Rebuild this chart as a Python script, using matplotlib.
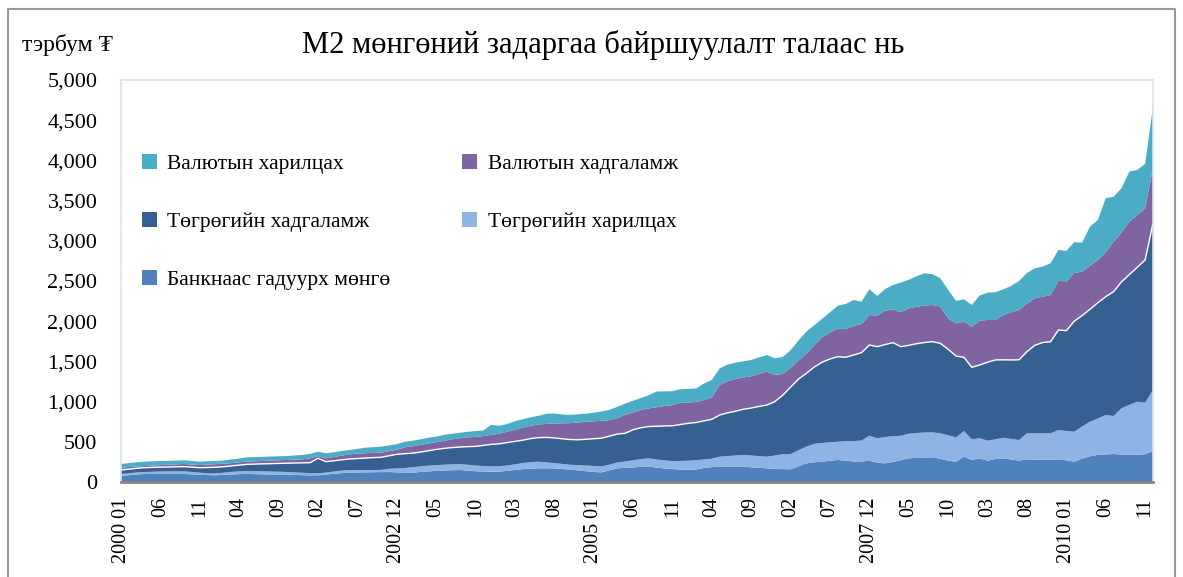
import numpy as np
import matplotlib.pyplot as plt
from matplotlib.lines import Line2D

# MONTHS 2000 01 .. 2010 12
months = ["%d %02d" % (y, m) for y in range(2000, 2011) for m in range(1, 13)]

tick_labels = ["2000 01", "06", "11", "04", "09", "02", "07", "2002 12", "05", "10",
               "03", "08", "2005 01", "06", "11", "04", "09", "02", "07", "2007 12",
               "05", "10", "03", "08", "2010 01", "06", "11"]

# BILLION TUGRIK
cash = [75, 85, 93, 100, 100, 100, 101, 100, 100, 95, 90, 86,
        83, 88, 93, 98, 100, 98, 96, 94, 92, 90, 88, 85,
        83, 83, 92, 102, 110, 116, 118, 120, 122, 123, 124, 120,
        112, 115, 125, 132, 138, 142, 146, 149, 142, 135, 130, 128,
        128, 138, 150, 160, 168, 170, 170, 170, 162, 155, 145, 135,
        125, 120, 145, 170, 175, 182, 188, 190, 180, 168, 161, 155,
        150, 155, 175, 185, 190, 190, 190, 190, 183, 176, 170, 165,
        160, 158, 195, 232, 245, 253, 265, 274, 265, 255, 255, 265,
        240, 232, 250, 270, 295, 300, 305, 307, 290, 265, 253, 315,
        274, 295, 265, 286, 295, 280, 265, 282, 278, 275, 274, 282,
        270, 253, 290, 320, 336, 342, 348, 342, 336, 340, 345, 386]

tug_current = [25, 25, 25, 24, 27, 30, 31, 33, 33, 30, 25, 24,
               25, 27, 32, 35, 37, 37, 36, 36, 36, 35, 32, 30,
               27, 25, 26, 28, 32, 33, 31, 29, 27, 27, 40, 48,
               62, 68, 70, 71, 72, 73, 74, 74, 73, 70, 68, 67,
               67, 67, 70, 75, 80, 82, 74, 65, 63, 60, 65, 70,
               75, 75, 70, 74, 80, 88, 97, 104, 100, 100, 100, 107,
               114, 117, 105, 105, 125, 132, 140, 146, 147, 146, 145, 165,
               185, 190, 200, 207, 230, 232, 229, 226, 245, 255, 260, 311,
               304, 328, 320, 306, 305, 310, 310, 311, 316, 315, 303, 319,
               257, 249, 249, 245, 256, 255, 257, 324, 328, 331, 332, 365,
               365, 373, 400, 430, 454, 491, 473, 575, 624, 659, 641, 758]

tug_deposit = [49, 50, 52, 54, 55, 55, 55, 56, 58, 59, 63, 70,
               75, 75, 75, 77, 83, 88, 94, 99, 104, 109, 116, 123,
               130, 187, 135, 134, 133, 137, 143, 149, 154, 157, 161, 176,
               178, 175, 177, 186, 195, 203, 208, 212, 225, 238, 257, 273,
               280, 285, 285, 285, 292, 300, 311, 313, 313, 313, 315, 327,
               338, 350, 355, 352, 351, 380, 390, 396, 414, 429, 438, 453,
               466, 468, 480, 490, 518, 538, 550, 569, 590, 618, 643, 670,
               735, 832, 885, 913, 955, 1005, 1036, 1059, 1041, 1070, 1094, 1128,
               1139, 1150, 1163, 1107, 1100, 1110, 1120, 1127, 1119, 1070, 1011, 917,
               896, 911, 976, 987, 969, 983, 998, 1015, 1094, 1129, 1139, 1244,
               1247, 1374, 1380, 1398, 1440, 1472, 1547, 1573, 1620, 1671, 1776, 2074]

fx_deposit = [29, 25, 22, 21, 22, 25, 27, 30, 33, 33, 33, 36,
              39, 38, 35, 35, 33, 35, 36, 37, 38, 40, 42, 44,
              55, 28, 42, 46, 53, 58, 60, 60, 59, 58, 60, 56,
              80, 85, 88, 89, 90, 94, 102, 110, 115, 119, 115, 119,
              125, 135, 145, 155, 160, 164, 167, 178, 192, 204, 215, 216,
              217, 215, 199, 199, 229, 215, 220, 225, 236, 248, 257, 270,
              260, 255, 260, 274, 374, 395, 400, 395, 395, 405, 414, 331,
              265, 240, 230, 243, 270, 310, 330, 353, 349, 360, 357, 373,
              386, 420, 415, 428, 460, 460, 460, 457, 456, 386, 407, 443,
              505, 552, 525, 497, 557, 592, 620, 599, 585, 570, 581, 613,
              610, 600, 546, 542, 530, 555, 622, 610, 658, 650, 643, 684]

fx_current = [46, 50, 53, 54, 53, 51, 49, 47, 46, 45, 42, 42,
              39, 40, 45, 47, 54, 52, 51, 51, 50, 49, 52, 54,
              55, 54, 62, 60, 57, 54, 60, 69, 71, 74, 70, 70,
              68, 70, 70, 72, 70, 73, 70, 67, 70, 71, 71, 124,
              99, 95, 105, 105, 105, 107, 126, 126, 110, 103, 102, 102,
              107, 117, 128, 140, 140, 145, 150, 165, 195, 182, 173, 169,
              168, 168, 205, 215, 207, 205, 205, 200, 203, 205, 208, 208,
              210, 220, 250, 275, 250, 230, 250, 281, 314, 324, 277, 320,
              245, 270, 302, 369, 355, 380, 401, 383, 353, 353, 278, 279,
              270, 313, 340, 345, 320, 330, 360, 380, 373, 374, 395, 382,
              382, 382, 361, 486, 499, 669, 559, 554, 622, 561, 551, 767]

names = ["Банкнаас гадуурх мөнгө", "Төгрөгийн харилцах", "Төгрөгийн хадгаламж",
         "Валютын хадгаламж", "Валютын харилцах"]
colors = ["#4F81BD", "#8EB4E3", "#376092", "#8064A2", "#4BACC6"]


def draw():
    plt.rcParams['font.family'] = ['Liberation Serif', 'DejaVu Serif', 'DejaVu Sans']

    fig = plt.figure(figsize=(11.83, 5.77), dpi=100)
    ax = fig.add_axes([121 / 1183, 1 - 482 / 577, 1032 / 1183, 402 / 577])

    x = np.arange(len(months))
    series = [cash, tug_current, tug_deposit, fx_deposit, fx_current]
    polys = ax.stackplot(x, *series, colors=colors, linewidth=0)

    # WHITE LINE ON TOP OF TUGRIK DEPOSITS
    top_dep = np.array(cash) + np.array(tug_current) + np.array(tug_deposit)
    ax.plot(x, top_dep, color="white", lw=1)

    ax.set_xlim(0, len(months) - 1)
    ax.set_ylim(0, 5000)
    ax.set_yticks(np.arange(0, 5001, 500))
    ax.set_yticklabels(["{:,}".format(v) for v in range(0, 5001, 500)], fontsize=16)
    ax.set_xticks(np.arange(0, len(months), 5))
    ax.set_xticklabels(tick_labels, rotation=90, fontsize=14.5)
    ax.tick_params(axis='y', length=0, pad=17)
    ax.tick_params(axis='x', length=0, pad=11)

    for s in ['left', 'top', 'right']:
        ax.spines[s].set_color("#D9E2F0")
        ax.spines[s].set_linewidth(1.2)
    ax.spines['bottom'].set_color("#868686")
    ax.spines['bottom'].set_linewidth(2)

    # LEGEND, ROW ORDER LIKE EXCEL
    order = [4, 2, 0, 3, 1]
    handles = [polys[k] for k in order]
    labels = [names[k] for k in order]
    ax.legend(handles, labels, ncol=2, loc='upper left', bbox_to_anchor=(0.02, 0.815),
              frameon=False, fontsize=15.5, handlelength=0.7, handleheight=0.7,
              handletextpad=0.5, labelspacing=1.75, columnspacing=3.3,
              borderpad=0, borderaxespad=0)

    fig.text(0.51, 0.922, "М2 мөнгөний задаргаа байршуулалт талаас нь",
             ha='center', va='center', fontsize=22)
    fig.text(22 / 1183, 0.922, "тэрбум ₮", ha='left', va='center', fontsize=17)

    # FIGURE BORDER
    fig.add_artist(Line2D([8 / 1183, 8 / 1183, 1175 / 1183, 1175 / 1183],
                          [0, 1 - 9 / 577, 1 - 9 / 577, 0],
                          transform=fig.transFigure, color="#9A9A9A", lw=1.5))

    fig.savefig("out.png", dpi=100)


def main():
    draw()


if __name__ == '__main__':
    main()
